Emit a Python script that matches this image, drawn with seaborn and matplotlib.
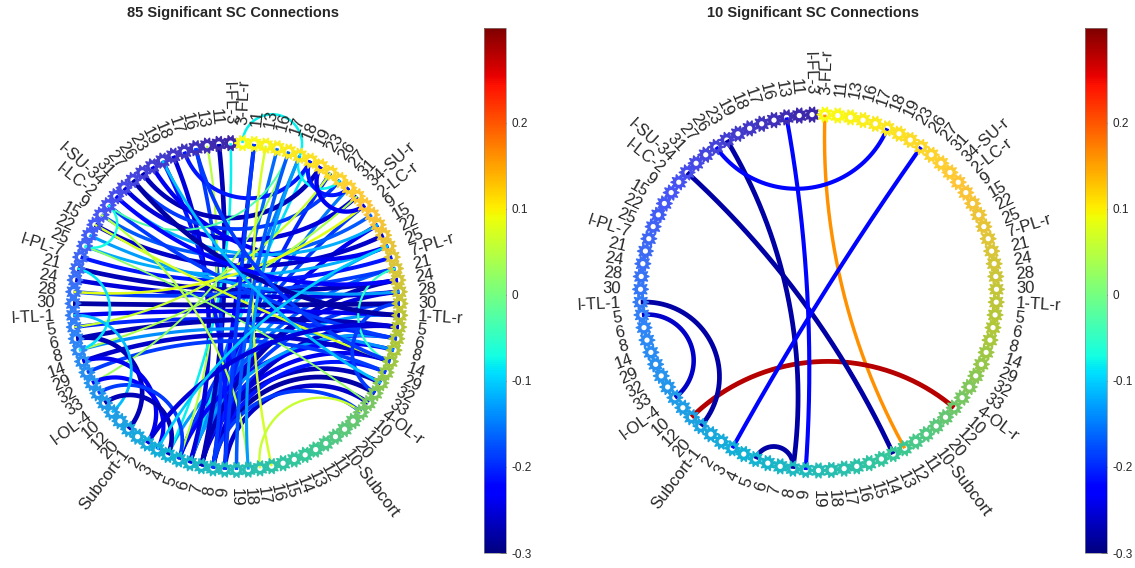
import numpy as np
import matplotlib
matplotlib.use("Agg")
import matplotlib.pyplot as plt
import seaborn as sns
from matplotlib.colors import LinearSegmentedColormap, Normalize
from matplotlib.path import Path

# ROI numbers per region (same set in both hemispheres)
regions = [
    ("FL", [3, 11, 13, 16, 17, 18, 19, 23, 26, 27, 31]),
    ("SU", [34]),
    ("LC", [2, 9, 15, 22, 25]),
    ("PL", [7, 21, 24, 28, 30]),
    ("TL", [1, 5, 6, 8, 14, 29, 32, 33]),
    ("OL", [4, 10, 12, 20]),
]
subcort_left = list(range(1, 10))
subcort_right = list(range(10, 20))

# connections: (node a, node b, value); nodes counted counter-clockwise from the top
edges_85 = [
    # fan out of the left subcortical nodes
    (39, 81, -0.15), (37, 64, -0.13), (40, 58, -0.27), (40, 60, -0.24), (40, 62, -0.20),
    (40, 65, -0.19), (41, 57, -0.28), (41, 59, -0.21), (41, 63, -0.26), (39, 66, -0.25),
    (39, 68, -0.17), (39, 70, -0.14), (38, 72, -0.24), (38, 74, -0.19), (40, 76, -0.15),
    (41, 78, -0.20), (39, 80, -0.09), (40, 83, -0.16), (41, 85, -0.22), (38, 61, -0.22),
    (42, 56, -0.26), (41, 55, -0.19), (39, 62, -0.13), (40, 67, -0.27),
    # frontal left going down
    (1, 40, -0.27), (3, 41, -0.19), (5, 39, -0.25), (2, 38, 0.05), (0, 37, -0.08),
    (6, 42, -0.21),
    # left to right
    (18, 67, -0.27), (19, 66, -0.25), (20, 68, -0.19), (21, 65, -0.28), (22, 64, -0.24),
    (23, 62, -0.20), (24, 63, -0.27), (25, 61, -0.14), (26, 60, -0.26), (27, 59, -0.19),
    (17, 69, -0.21), (16, 70, -0.12), (14, 71, -0.26), (13, 73, -0.17), (12, 62, -0.19),
    (15, 66, -0.13),
    # across the top
    (8, 79, -0.27), (9, 77, -0.19), (10, 75, -0.25), (4, 80, -0.21), (7, 70, -0.24),
    (11, 72, -0.12),
    # positive / near zero
    (23, 78, 0.06), (25, 75, 0.04), (14, 60, 0.07), (16, 56, 0.02), (20, 74, 0.08),
    (13, 44, 0.05), (28, 82, 0.03), (84, 46, 0.07), (12, 82, -0.03), (45, 55, 0.06),
    # short arcs, left side
    (24, 33, -0.27), (26, 35, -0.24), (28, 36, -0.23), (29, 38, -0.19), (22, 31, -0.11),
    (18, 25, -0.09), (30, 37, -0.27), (12, 16, -0.07),
    # right side
    (81, 77, -0.08), (80, 76, -0.21), (60, 68, -0.05), (57, 65, -0.19),
    (74, 79, -0.24), (81, 44, -0.13), (82, 43, -0.17), (85, 42, -0.19),
    (9, 64, -0.28), (11, 67, -0.22), (6, 58, -0.11), (3, 60, -0.19), (35, 63, -0.25),
    (36, 70, -0.10),
]
# the one connection that is drawn looping outside the ring
loops_85 = [(86, 81, -0.08)]

edges_10 = [
    (86, 50, 0.16), (32, 55, 0.28), (22, 33, -0.28), (23, 30, -0.26), (38, 41, -0.28),
    (7, 41, -0.28), (11, 49, -0.28), (8, 81, -0.22), (36, 78, -0.22), (2, 42, -0.22),
]
loops_10 = []

titles = ["85 Significant SC Connections", "10 Significant SC Connections"]
cbar_ticks = [-0.3, -0.2, -0.1, 0, 0.1, 0.2]

# node labels in counter-clockwise order
left_labels = []
for name, rois in regions:
    left_labels += [f"l-{name}-{rois[0]}"] + [str(r) for r in rois[1:]]
left_labels += ["Subcort-1"] + [str(r) for r in subcort_left[1:]]
right_labels = []
for name, rois in regions:
    right_labels += [f"{rois[0]}-{name}-r"] + [str(r) for r in rois[1:]]
right_labels += ["10-Subcort"] + [str(r) for r in subcort_right[1:]]
labels = left_labels + right_labels[::-1]
N = len(labels)

parula = LinearSegmentedColormap.from_list("parula", [
    (0.2422, 0.1504, 0.6603), (0.2810, 0.3228, 0.9579), (0.1786, 0.5289, 0.9682),
    (0.0689, 0.6948, 0.8394), (0.2161, 0.7843, 0.5923), (0.6720, 0.7793, 0.2227),
    (0.9970, 0.7659, 0.2199), (0.9769, 0.9839, 0.0805)])
norm = Normalize(-0.3, 0.31)
cmap = plt.get_cmap("jet")

# flower-like node marker with a hole
t = np.linspace(0, 2 * np.pi, 240)
rr = 1 + 0.18 * np.cos(10 * t)
outer = np.c_[rr * np.cos(t), rr * np.sin(t)]
inner = 0.36 * np.c_[np.cos(t), -np.sin(t)]
verts = np.vstack([outer, inner])
codes = np.full(len(verts), Path.LINETO)
codes[0] = codes[len(outer)] = Path.MOVETO
gear = Path(verts, codes)


def angle(k):
    return np.deg2rad(90 + (k + 0.5) * 360 / N)


def arc(k1, k2, outside=False, n=200):
    a, b = angle(k1), angle(k2)
    p1 = np.array([np.cos(a), np.sin(a)])
    p2 = np.array([np.cos(b), np.sin(b)])
    d = abs((b - a + np.pi) % (2 * np.pi) - np.pi)
    if d > np.pi - 0.03:
        s = np.linspace(0, 1, n)
        return p1[0] + (p2[0] - p1[0]) * s, p1[1] + (p2[1] - p1[1]) * s
    mid = (p1 + p2) / 2
    c = mid / np.linalg.norm(mid) / np.cos(d / 2)
    R = np.tan(d / 2)
    a1 = np.arctan2(*(p1 - c)[::-1])
    a2 = np.arctan2(*(p2 - c)[::-1])
    da = (a2 - a1 + np.pi) % (2 * np.pi) - np.pi
    if outside:
        da = da - np.sign(da) * 2 * np.pi
    ts = a1 + da * np.linspace(0, 1, n)
    return c[0] + R * np.cos(ts), c[1] + R * np.sin(ts)


sns.set_style("white")
plt.rcParams['font.family'] = ['Liberation Sans', 'DejaVu Sans']

fig = plt.figure(figsize=(11.35, 5.68), dpi=100)
W, H = 1135, 568
L = 1.35
panels = [
    (edges_85, loops_85, 236.5, 306.5, 163.5, 484, 233),
    (edges_10, loops_10, 818.5, 292.5, 178.0, 1085, 813),
]
for (edges, loops, cx, cy, r, cbx, tx), title in zip(panels, titles):
    half = L * r
    ax = fig.add_axes([(cx - half) / W, (H - cy - half) / H, 2 * half / W, 2 * half / H])
    ax.set_xlim(-L, L)
    ax.set_ylim(-L, L)
    ax.axis("off")

    for (k1, k2, v), out in [(e, False) for e in edges] + [(e, True) for e in loops]:
        x, y = arc(k1, k2, outside=out)
        ax.plot(x, y, color=cmap(norm(v)), lw=1.2 + 8 * abs(v),
                solid_capstyle="butt", zorder=2)

    th = np.array([angle(k) for k in range(N)])
    sns.scatterplot(x=np.cos(th), y=np.sin(th), hue=np.arange(N), palette=parula,
                    hue_norm=(0, N - 1), marker=gear, s=150, linewidth=0,
                    legend=False, ax=ax, zorder=3)

    for k, lab in enumerate(labels):
        deg = np.rad2deg(th[k]) % 360
        rx, ry = 1.11 * np.cos(th[k]), 1.11 * np.sin(th[k])
        if 90 < deg < 270:
            ax.text(rx, ry, lab, rotation=deg - 180, ha="right", va="center",
                    rotation_mode="anchor", fontsize=12)
        else:
            ax.text(rx, ry, lab, rotation=deg, ha="left", va="center",
                    rotation_mode="anchor", fontsize=12)

    cax = fig.add_axes([cbx / W, 15 / H, 22 / W, 525 / H])
    sm = plt.cm.ScalarMappable(norm=norm, cmap=cmap)
    cb = fig.colorbar(sm, cax=cax, ticks=cbar_ticks)
    cb.ax.set_yticklabels(["-0.3", "-0.2", "-0.1", "0", "0.1", "0.2"])
    cb.ax.tick_params(direction="in", length=4, width=0.6, labelsize=8.5, pad=4)
    cb.outline.set_linewidth(0.5)
    cb.outline.set_edgecolor("#888888")

    fig.text(tx / W, 1 - 13 / H, title, ha="center", va="center",
             fontsize=10.5, fontweight="bold")

fig.savefig("out.png", dpi=100)
